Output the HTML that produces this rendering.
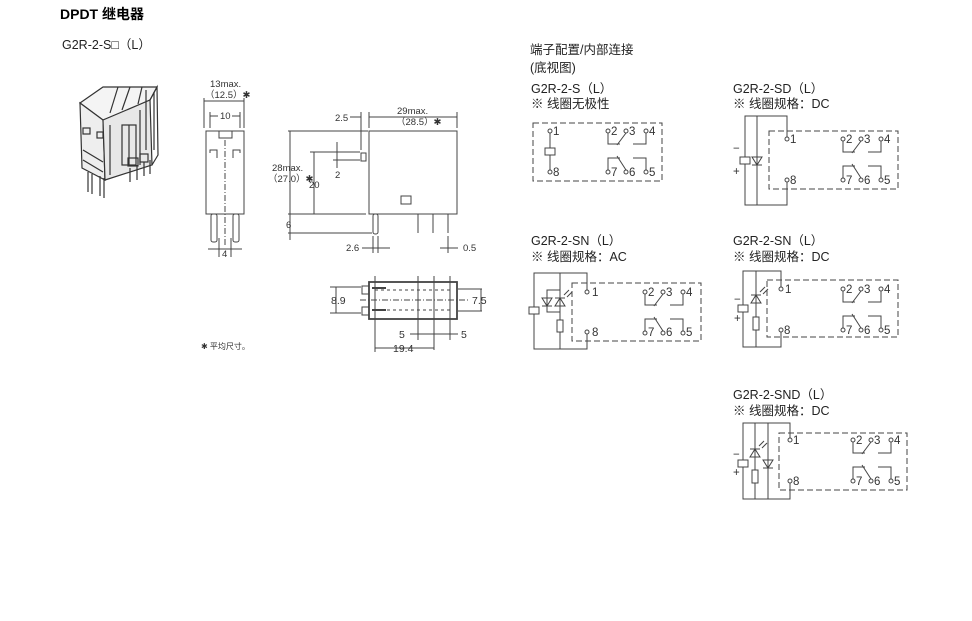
<!DOCTYPE html>
<html><head><meta charset="utf-8"><style>
html,body{margin:0;padding:0;background:#fff;}
svg{display:block;font-family:"Liberation Sans","Noto Sans CJK SC",sans-serif;}
.t{font-size:12.5px;fill:#222;}
.s{font-size:9.5px;fill:#333;}
.n{font-size:11.5px;fill:#333;}
</style></head><body>
<svg width="972" height="621" viewBox="0 0 972 621" xmlns="http://www.w3.org/2000/svg">
<defs>
<g id="cg" fill="none" stroke="#444" stroke-width="1">
 <circle cx="0" cy="0" r="2" fill="#fff"/><circle cx="18" cy="0" r="2" fill="#fff"/><circle cx="38" cy="0" r="2" fill="#fff"/>
 <circle cx="0" cy="41" r="2" fill="#fff"/><circle cx="18" cy="41" r="2" fill="#fff"/><circle cx="38" cy="41" r="2" fill="#fff"/>
 <polyline points="0,2 0,13 12,13"/><line x1="18" y1="2" x2="9" y2="14"/><polyline points="38,2 38,13 25,13"/>
 <polyline points="0,39 0,27 12,27"/><line x1="18" y1="39" x2="9" y2="25"/><polyline points="38,39 38,27 25,27"/>
</g>
<g id="led" fill="none" stroke="#444" stroke-width="1">
 <polygon points="-5,5 5,5 0,-3"/><line x1="-5" y1="-3" x2="5" y2="-3"/>
 <line x1="4" y1="-6" x2="9" y2="-11"/><line x1="7" y1="-4" x2="12" y2="-9"/>
</g>
<g id="dio" fill="none" stroke="#444" stroke-width="1">
 <polygon points="-5,-3 5,-3 0,5"/><line x1="-5" y1="5" x2="5" y2="5"/>
</g>
</defs>

<text x="60" y="19" style="font-size:14px;font-weight:bold;fill:#000">DPDT 继电器</text>
<text x="62" y="49" class="t">G2R-2-S□（L）</text>

<!-- photo sketch -->
<g fill="none" stroke="#333" stroke-width="1.2">
 <polygon points="80,103 103,87 157,87 150,100 128,110 103,120" fill="#f4f4f4"/>
 <polygon points="80,103 103,120 105,180 82,168" fill="#eee"/>
 <polygon points="103,120 150,100 152,165 105,180" fill="#e8e8e8"/>
 <polyline points="150,100 157,87 158,155 152,165"/>
 <line x1="118" y1="87" x2="110" y2="113"/><line x1="130" y1="87" x2="122" y2="110"/><line x1="142" y1="87" x2="138" y2="104"/>
 <line x1="146" y1="90" x2="146" y2="150"/><line x1="154" y1="92" x2="154" y2="150"/>
 <rect x="122" y="125" width="14" height="40"/><line x1="129" y1="125" x2="129" y2="165"/>
 <line x1="110" y1="125" x2="110" y2="175"/><line x1="140" y1="110" x2="140" y2="165"/>
 <rect x="83" y="128" width="7" height="6"/><rect x="97" y="132" width="6" height="6"/>
 <line x1="83" y1="150" x2="103" y2="162"/><line x1="83" y1="160" x2="103" y2="172"/>
 <rect x="128" y="158" width="10" height="8"/><rect x="140" y="154" width="8" height="8"/>
 <line x1="88" y1="172" x2="88" y2="192"/><line x1="92" y1="174" x2="92" y2="194"/>
 <line x1="100" y1="176" x2="100" y2="196"/><line x1="104" y1="178" x2="104" y2="198"/>
 <line x1="130" y1="168" x2="130" y2="182"/><line x1="137" y1="165" x2="137" y2="180"/><line x1="144" y1="162" x2="144" y2="176"/><line x1="150" y1="160" x2="150" y2="174"/>
</g>

<!-- front view -->
<g fill="none" stroke="#444" stroke-width="1">
 <rect x="206" y="131" width="38" height="83"/>
 <polyline points="219,131 219,138 232,138 232,131"/>
 <polyline points="210,153 210,150 217,150 217,158"/><polyline points="240,153 240,150 233,150 233,158"/>
 <line x1="225" y1="140" x2="225" y2="245" stroke-dasharray="6,2,1,2"/>
 <rect x="211" y="214" width="6" height="28" rx="2"/><rect x="233" y="214" width="6" height="28" rx="2"/>
 <line x1="204" y1="98" x2="204" y2="128"/><line x1="244" y1="98" x2="244" y2="128"/>
 <line x1="204" y1="101" x2="244" y2="101"/>
 <line x1="210" y1="112" x2="210" y2="128"/><line x1="240" y1="112" x2="240" y2="128"/>
 <line x1="210" y1="116" x2="218" y2="116"/><line x1="232" y1="116" x2="240" y2="116"/>
 <line x1="219" y1="238" x2="219" y2="257"/><line x1="231" y1="238" x2="231" y2="257"/>
 <line x1="208" y1="249" x2="242" y2="249"/>
</g>
<text x="210" y="87" class="s">13max.</text>
<text x="205" y="98" class="s">（12.5）✱</text>
<text x="220" y="119" class="s">10</text>
<text x="222" y="257" class="s">4</text>

<!-- side view -->
<g fill="none" stroke="#444" stroke-width="1">
 <rect x="369" y="131" width="88" height="83"/>
 <rect x="361" y="153" width="5" height="8"/>
 <rect x="401" y="196" width="10" height="8"/>
 <rect x="373" y="214" width="5" height="20" rx="2"/>
 <line x1="418" y1="214" x2="418" y2="233"/><line x1="433" y1="214" x2="433" y2="233"/><line x1="448" y1="214" x2="448" y2="233"/>
 <line x1="288" y1="131" x2="368" y2="131"/><line x1="288" y1="214" x2="366" y2="214"/><line x1="288" y1="233" x2="372" y2="233"/>
 <line x1="290" y1="131" x2="290" y2="240"/>
 <line x1="310" y1="152" x2="360" y2="152"/><line x1="314" y1="152" x2="314" y2="214"/>
 <line x1="333" y1="160" x2="360" y2="160"/><line x1="337" y1="142" x2="337" y2="168"/>
 <line x1="361" y1="112" x2="361" y2="150"/><line x1="369" y1="112" x2="369" y2="128"/>
 <line x1="350" y1="117" x2="361" y2="117"/><line x1="369" y1="117" x2="457" y2="117"/>
 <line x1="457" y1="112" x2="457" y2="128"/>
 <line x1="373" y1="236" x2="373" y2="253"/><line x1="378" y1="236" x2="378" y2="253"/>
 <line x1="362" y1="248" x2="390" y2="248"/>
 <line x1="448" y1="236" x2="448" y2="253"/><line x1="440" y1="248" x2="458" y2="248"/>
</g>
<text x="335" y="121" class="s">2.5</text>
<text x="397" y="114" class="s">29max.</text>
<text x="396" y="125" class="s">（28.5）✱</text>
<text x="272" y="171" class="s">28max.</text>
<text x="268" y="182" class="s">（27.0）✱</text>
<text x="309" y="188" class="s">20</text>
<text x="335" y="178" class="s">2</text>
<text x="286" y="228" class="s">6</text>
<text x="346" y="251" class="s">2.6</text>
<text x="463" y="251" class="s">0.5</text>

<!-- bottom view -->
<g fill="none" stroke="#444" stroke-width="1">
 <rect x="369" y="282" width="88" height="37" stroke-width="1.8"/>
 <rect x="362" y="286" width="7" height="8"/><rect x="362" y="307" width="7" height="8"/>
 <line x1="372" y1="288" x2="386" y2="288" stroke-width="2"/><line x1="372" y1="310" x2="386" y2="310" stroke-width="2"/>
 <line x1="360" y1="300" x2="470" y2="300" stroke-dasharray="6,2,1,2"/>
 <line x1="375" y1="290" x2="450" y2="290" stroke-dasharray="3,3"/><line x1="375" y1="310" x2="450" y2="310" stroke-dasharray="3,3"/>
 <line x1="418" y1="276" x2="418" y2="340"/><line x1="434" y1="276" x2="434" y2="350"/><line x1="450" y1="276" x2="450" y2="340"/>
 <line x1="375" y1="276" x2="375" y2="352"/>
 <line x1="330" y1="287" x2="361" y2="287"/><line x1="330" y1="313" x2="361" y2="313"/>
 <line x1="336" y1="287" x2="336" y2="313"/>
 <line x1="458" y1="289" x2="482" y2="289"/><line x1="458" y1="311" x2="482" y2="311"/>
 <line x1="481" y1="289" x2="481" y2="311"/>
 <line x1="410" y1="334" x2="458" y2="334"/>
 <line x1="375" y1="348" x2="434" y2="348"/>
</g>
<text x="331" y="304" class="n" style="font-size:10.5px">8.9</text>
<text x="472" y="304" class="n" style="font-size:10.5px">7.5</text>
<text x="399" y="338" class="n" style="font-size:10.5px">5</text>
<text x="461" y="338" class="n" style="font-size:10.5px">5</text>
<text x="393" y="352" class="n" style="font-size:10.5px">19.4</text>
<text x="201" y="349" class="s" style="font-size:8px">✱ 平均尺寸。</text>

<!-- right headings -->
<text x="530" y="54" class="t">端子配置/内部连接</text>
<text x="530" y="72" class="t">(底视图)</text>
<text x="531" y="93" class="t">G2R-2-S（L）</text>
<text x="531" y="108" class="t">※ 线圈无极性</text>
<text x="733" y="93" class="t">G2R-2-SD（L）</text>
<text x="733" y="108" class="t">※ 线圈规格：DC</text>
<text x="531" y="245" class="t">G2R-2-SN（L）</text>
<text x="531" y="261" class="t">※ 线圈规格：AC</text>
<text x="733" y="245" class="t">G2R-2-SN（L）</text>
<text x="733" y="261" class="t">※ 线圈规格：DC</text>
<text x="733" y="399" class="t">G2R-2-SND（L）</text>
<text x="733" y="415" class="t">※ 线圈规格：DC</text>

<g fill="none" stroke="#444" stroke-width="1">
 <rect x="533" y="123" width="129" height="58" stroke-dasharray="6,3"/>
 <line x1="550" y1="133" x2="550" y2="170"/>
 <rect x="545" y="148" width="10" height="7" fill="#fff"/>
 <circle cx="550" cy="131" r="2" fill="#fff"/><circle cx="550" cy="172" r="2" fill="#fff"/>
 <use href="#cg" x="608" y="131"/>

 <rect x="769" y="131" width="129" height="58" stroke-dasharray="6,3"/>
 <polyline points="787,138 787,116 745,116 745,205 787,205 787,182"/>
 <line x1="757" y1="116" x2="757" y2="205"/>
 <rect x="740" y="157" width="10" height="7" fill="#fff"/>
 <use href="#dio" x="757" y="160"/>
 <circle cx="787" cy="139" r="2" fill="#fff"/><circle cx="787" cy="180" r="2" fill="#fff"/>
 <use href="#cg" x="843" y="139"/>

 <rect x="572" y="283" width="129" height="58" stroke-dasharray="6,3"/>
 <polyline points="587,290 587,273 534,273 534,349 587,349 587,334"/>
 <line x1="560" y1="273" x2="560" y2="349"/>
 <rect x="529" y="307" width="10" height="7" fill="#fff"/>
 <polyline points="560,290 547,290 547,312 560,312"/>
 <use href="#dio" x="547" y="301"/>
 <use href="#led" x="560" y="301"/>
 <rect x="557" y="320" width="6" height="12" fill="#fff"/>
 <circle cx="587" cy="292" r="2" fill="#fff"/><circle cx="587" cy="332" r="2" fill="#fff"/>
 <use href="#cg" x="645" y="292"/>

 <rect x="767" y="280" width="131" height="57" stroke-dasharray="6,3"/>
 <polyline points="781,287 781,271 743,271 743,347 781,347 781,332"/>
 <line x1="756" y1="271" x2="756" y2="347"/>
 <rect x="738" y="305" width="10" height="7" fill="#fff"/>
 <use href="#led" x="756" y="298"/>
 <rect x="753" y="317" width="6" height="13" fill="#fff"/>
 <circle cx="781" cy="289" r="2" fill="#fff"/><circle cx="781" cy="330" r="2" fill="#fff"/>
 <use href="#cg" x="843" y="289"/>

 <rect x="779" y="433" width="128" height="57" stroke-dasharray="6,3"/>
 <polyline points="790,438 790,423 743,423 743,499 790,499 790,482"/>
 <line x1="755" y1="423" x2="755" y2="499"/><line x1="768" y1="423" x2="768" y2="499"/>
 <rect x="738" y="460" width="10" height="7" fill="#fff"/>
 <use href="#led" x="755" y="452"/>
 <use href="#dio" x="768" y="463"/>
 <rect x="752" y="470" width="6" height="13" fill="#fff"/>
 <circle cx="790" cy="440" r="2" fill="#fff"/><circle cx="790" cy="481" r="2" fill="#fff"/>
 <use href="#cg" x="853" y="440"/>
</g>

<g class="n">
 <text x="553" y="135" class="n">1</text><text x="553" y="176" class="n">8</text>
 <text x="611" y="135" class="n">2</text><text x="629" y="135" class="n">3</text><text x="649" y="135" class="n">4</text>
 <text x="611" y="176" class="n">7</text><text x="629" y="176" class="n">6</text><text x="649" y="176" class="n">5</text>

 <text x="790" y="143" class="n">1</text><text x="790" y="184" class="n">8</text>
 <text x="846" y="143" class="n">2</text><text x="864" y="143" class="n">3</text><text x="884" y="143" class="n">4</text>
 <text x="846" y="184" class="n">7</text><text x="864" y="184" class="n">6</text><text x="884" y="184" class="n">5</text>
 <text x="733" y="152" class="n">−</text><text x="733" y="175" class="n">+</text>

 <text x="592" y="296" class="n">1</text><text x="592" y="336" class="n">8</text>
 <text x="648" y="296" class="n">2</text><text x="666" y="296" class="n">3</text><text x="686" y="296" class="n">4</text>
 <text x="648" y="336" class="n">7</text><text x="666" y="336" class="n">6</text><text x="686" y="336" class="n">5</text>

 <text x="785" y="293" class="n">1</text><text x="784" y="334" class="n">8</text>
 <text x="846" y="293" class="n">2</text><text x="864" y="293" class="n">3</text><text x="884" y="293" class="n">4</text>
 <text x="846" y="334" class="n">7</text><text x="864" y="334" class="n">6</text><text x="884" y="334" class="n">5</text>
 <text x="734" y="303" class="n">−</text><text x="734" y="322" class="n">+</text>

 <text x="793" y="444" class="n">1</text><text x="793" y="485" class="n">8</text>
 <text x="856" y="444" class="n">2</text><text x="874" y="444" class="n">3</text><text x="894" y="444" class="n">4</text>
 <text x="856" y="485" class="n">7</text><text x="874" y="485" class="n">6</text><text x="894" y="485" class="n">5</text>
 <text x="733" y="458" class="n">−</text><text x="733" y="476" class="n">+</text>
</g>
</svg>
</body></html>
